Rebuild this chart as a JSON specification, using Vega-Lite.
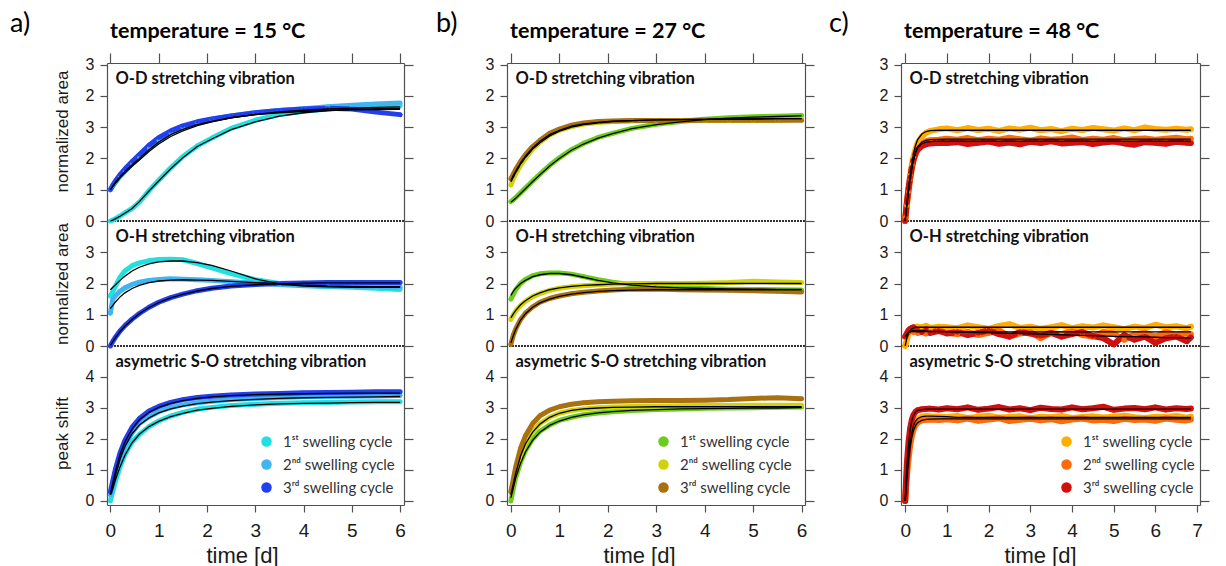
{
"$schema":"https://vega.github.io/schema/vega-lite/v6.json",
"padding":{"left":10,"top":9,"right":5,"bottom":0},
"datasets":{
"aOD":[
{"c":1,"t":0,"v":0,"f":0},{"c":1,"t":0.05,"v":0.03,"f":0.03},{"c":1,"t":0.1,"v":0.07,"f":0.07},{"c":1,"t":0.2,"v":0.16,"f":0.15},{"c":1,"t":0.3,"v":0.26,"f":0.25},{"c":1,"t":0.45,"v":0.4,"f":0.4},{"c":1,"t":0.6,"v":0.6,"f":0.62},{"c":1,"t":0.8,"v":0.97,"f":0.96},{"c":1,"t":1,"v":1.3,"f":1.28},{"c":1,"t":1.25,"v":1.7,"f":1.67},{"c":1,"t":1.5,"v":2.06,"f":2.02},{"c":1,"t":1.8,"v":2.4,"f":2.38},{"c":1,"t":2.1,"v":2.65,"f":2.62},{"c":1,"t":2.5,"v":2.96,"f":2.92},{"c":1,"t":3,"v":3.22,"f":3.17},{"c":1,"t":3.5,"v":3.4,"f":3.35},{"c":1,"t":4,"v":3.51,"f":3.46},{"c":1,"t":4.5,"v":3.58,"f":3.53},{"c":1,"t":5,"v":3.63,"f":3.57},{"c":1,"t":5.5,"v":3.66,"f":3.59},{"c":1,"t":6,"v":3.68,"f":3.6},
{"c":2,"t":0,"v":1.0,"f":1.0},{"c":2,"t":0.05,"v":1.12,"f":1.1},{"c":2,"t":0.1,"v":1.22,"f":1.2},{"c":2,"t":0.2,"v":1.42,"f":1.38},{"c":2,"t":0.3,"v":1.58,"f":1.53},{"c":2,"t":0.45,"v":1.83,"f":1.75},{"c":2,"t":0.6,"v":2.03,"f":1.95},{"c":2,"t":0.8,"v":2.33,"f":2.22},{"c":2,"t":1,"v":2.58,"f":2.46},{"c":2,"t":1.25,"v":2.82,"f":2.7},{"c":2,"t":1.5,"v":3.0,"f":2.88},{"c":2,"t":1.8,"v":3.15,"f":3.05},{"c":2,"t":2.1,"v":3.25,"f":3.17},{"c":2,"t":2.5,"v":3.36,"f":3.3},{"c":2,"t":3,"v":3.46,"f":3.41},{"c":2,"t":3.5,"v":3.53,"f":3.49},{"c":2,"t":4,"v":3.59,"f":3.54},{"c":2,"t":4.5,"v":3.65,"f":3.58},{"c":2,"t":5,"v":3.7,"f":3.61},{"c":2,"t":5.5,"v":3.74,"f":3.63},{"c":2,"t":6,"v":3.77,"f":3.65},
{"c":3,"t":0,"v":1.0,"f":1.0},{"c":3,"t":0.05,"v":1.15,"f":1.12},{"c":3,"t":0.1,"v":1.27,"f":1.23},{"c":3,"t":0.2,"v":1.48,"f":1.42},{"c":3,"t":0.3,"v":1.66,"f":1.58},{"c":3,"t":0.45,"v":1.9,"f":1.8},{"c":3,"t":0.6,"v":2.12,"f":2.0},{"c":3,"t":0.8,"v":2.42,"f":2.28},{"c":3,"t":1,"v":2.66,"f":2.52},{"c":3,"t":1.25,"v":2.88,"f":2.76},{"c":3,"t":1.5,"v":3.04,"f":2.93},{"c":3,"t":1.8,"v":3.17,"f":3.08},{"c":3,"t":2.1,"v":3.26,"f":3.18},{"c":3,"t":2.5,"v":3.36,"f":3.3},{"c":3,"t":3,"v":3.46,"f":3.4},{"c":3,"t":3.5,"v":3.53,"f":3.46},{"c":3,"t":4,"v":3.58,"f":3.5},{"c":3,"t":4.5,"v":3.6,"f":3.53},{"c":3,"t":5,"v":3.58,"f":3.55},{"c":3,"t":5.5,"v":3.48,"f":3.56},{"c":3,"t":6,"v":3.4,"f":3.57}],
"aOH":[
{"c":1,"t":0,"v":1.6,"f":1.8},{"c":1,"t":0.05,"v":1.75,"f":1.88},{"c":1,"t":0.1,"v":1.9,"f":1.95},{"c":1,"t":0.2,"v":2.2,"f":2.1},{"c":1,"t":0.3,"v":2.4,"f":2.23},{"c":1,"t":0.45,"v":2.57,"f":2.4},{"c":1,"t":0.6,"v":2.66,"f":2.52},{"c":1,"t":0.8,"v":2.73,"f":2.63},{"c":1,"t":1,"v":2.77,"f":2.69},{"c":1,"t":1.25,"v":2.78,"f":2.72},{"c":1,"t":1.5,"v":2.76,"f":2.72},{"c":1,"t":1.8,"v":2.64,"f":2.67},{"c":1,"t":2.1,"v":2.5,"f":2.58},{"c":1,"t":2.5,"v":2.32,"f":2.4},{"c":1,"t":3,"v":2.12,"f":2.15},{"c":1,"t":3.5,"v":2.0,"f":1.99},{"c":1,"t":4,"v":1.94,"f":1.92},{"c":1,"t":4.5,"v":1.9,"f":1.89},{"c":1,"t":5,"v":1.88,"f":1.88},{"c":1,"t":5.5,"v":1.85,"f":1.88},{"c":1,"t":6,"v":1.81,"f":1.88},
{"c":2,"t":0,"v":1.05,"f":1.2},{"c":2,"t":0.05,"v":1.5,"f":1.3},{"c":2,"t":0.1,"v":1.6,"f":1.4},{"c":2,"t":0.2,"v":1.75,"f":1.57},{"c":2,"t":0.3,"v":1.86,"f":1.7},{"c":2,"t":0.45,"v":1.97,"f":1.84},{"c":2,"t":0.6,"v":2.04,"f":1.94},{"c":2,"t":0.8,"v":2.1,"f":2.03},{"c":2,"t":1,"v":2.13,"f":2.08},{"c":2,"t":1.25,"v":2.15,"f":2.11},{"c":2,"t":1.5,"v":2.14,"f":2.12},{"c":2,"t":1.8,"v":2.12,"f":2.11},{"c":2,"t":2.1,"v":2.1,"f":2.1},{"c":2,"t":2.5,"v":2.06,"f":2.07},{"c":2,"t":3,"v":2.02,"f":2.03},{"c":2,"t":3.5,"v":1.97,"f":1.99},{"c":2,"t":4,"v":1.93,"f":1.95},{"c":2,"t":4.5,"v":1.91,"f":1.92},{"c":2,"t":5,"v":1.9,"f":1.91},{"c":2,"t":5.5,"v":1.89,"f":1.9},{"c":2,"t":6,"v":1.88,"f":1.9},
{"c":3,"t":0,"v":0,"f":0.02},{"c":3,"t":0.05,"v":0.15,"f":0.14},{"c":3,"t":0.1,"v":0.27,"f":0.26},{"c":3,"t":0.2,"v":0.48,"f":0.46},{"c":3,"t":0.3,"v":0.65,"f":0.63},{"c":3,"t":0.45,"v":0.86,"f":0.85},{"c":3,"t":0.6,"v":1.04,"f":1.03},{"c":3,"t":0.8,"v":1.24,"f":1.23},{"c":3,"t":1,"v":1.4,"f":1.39},{"c":3,"t":1.25,"v":1.55,"f":1.54},{"c":3,"t":1.5,"v":1.66,"f":1.65},{"c":3,"t":1.8,"v":1.77,"f":1.76},{"c":3,"t":2.1,"v":1.85,"f":1.84},{"c":3,"t":2.5,"v":1.92,"f":1.91},{"c":3,"t":3,"v":1.97,"f":1.96},{"c":3,"t":3.5,"v":2.0,"f":1.99},{"c":3,"t":4,"v":2.02,"f":2.01},{"c":3,"t":4.5,"v":2.03,"f":2.02},{"c":3,"t":5,"v":2.03,"f":2.02},{"c":3,"t":5.5,"v":2.03,"f":2.02},{"c":3,"t":6,"v":2.03,"f":2.02}],
"aSO":[
{"c":1,"t":0,"v":0,"f":0.2},{"c":1,"t":0.05,"v":0.3,"f":0.42},{"c":1,"t":0.1,"v":0.6,"f":0.66},{"c":1,"t":0.2,"v":1.1,"f":1.1},{"c":1,"t":0.3,"v":1.5,"f":1.47},{"c":1,"t":0.45,"v":1.9,"f":1.88},{"c":1,"t":0.6,"v":2.15,"f":2.15},{"c":1,"t":0.8,"v":2.4,"f":2.4},{"c":1,"t":1,"v":2.58,"f":2.57},{"c":1,"t":1.25,"v":2.74,"f":2.72},{"c":1,"t":1.5,"v":2.86,"f":2.83},{"c":1,"t":1.8,"v":2.96,"f":2.93},{"c":1,"t":2.1,"v":3.02,"f":2.99},{"c":1,"t":2.5,"v":3.08,"f":3.05},{"c":1,"t":3,"v":3.12,"f":3.1},{"c":1,"t":3.5,"v":3.15,"f":3.13},{"c":1,"t":4,"v":3.17,"f":3.15},{"c":1,"t":4.5,"v":3.18,"f":3.16},{"c":1,"t":5,"v":3.19,"f":3.17},{"c":1,"t":5.5,"v":3.2,"f":3.18},{"c":1,"t":6,"v":3.2,"f":3.18},
{"c":2,"t":0,"v":0.2,"f":0.2},{"c":2,"t":0.05,"v":0.5,"f":0.52},{"c":2,"t":0.1,"v":0.85,"f":0.82},{"c":2,"t":0.2,"v":1.4,"f":1.35},{"c":2,"t":0.3,"v":1.8,"f":1.75},{"c":2,"t":0.45,"v":2.2,"f":2.17},{"c":2,"t":0.6,"v":2.5,"f":2.45},{"c":2,"t":0.8,"v":2.72,"f":2.68},{"c":2,"t":1,"v":2.88,"f":2.84},{"c":2,"t":1.25,"v":3.01,"f":2.97},{"c":2,"t":1.5,"v":3.1,"f":3.06},{"c":2,"t":1.8,"v":3.17,"f":3.14},{"c":2,"t":2.1,"v":3.22,"f":3.19},{"c":2,"t":2.5,"v":3.27,"f":3.24},{"c":2,"t":3,"v":3.31,"f":3.28},{"c":2,"t":3.5,"v":3.34,"f":3.31},{"c":2,"t":4,"v":3.36,"f":3.33},{"c":2,"t":4.5,"v":3.37,"f":3.34},{"c":2,"t":5,"v":3.38,"f":3.35},{"c":2,"t":5.5,"v":3.39,"f":3.36},{"c":2,"t":6,"v":3.4,"f":3.37},
{"c":3,"t":0,"v":0.3,"f":0.2},{"c":3,"t":0.05,"v":0.65,"f":0.58},{"c":3,"t":0.1,"v":1.0,"f":0.93},{"c":3,"t":0.2,"v":1.55,"f":1.5},{"c":3,"t":0.3,"v":1.95,"f":1.9},{"c":3,"t":0.45,"v":2.38,"f":2.33},{"c":3,"t":0.6,"v":2.66,"f":2.62},{"c":3,"t":0.8,"v":2.9,"f":2.86},{"c":3,"t":1,"v":3.05,"f":3.02},{"c":3,"t":1.25,"v":3.18,"f":3.15},{"c":3,"t":1.5,"v":3.27,"f":3.24},{"c":3,"t":1.8,"v":3.34,"f":3.31},{"c":3,"t":2.1,"v":3.38,"f":3.36},{"c":3,"t":2.5,"v":3.42,"f":3.4},{"c":3,"t":3,"v":3.45,"f":3.43},{"c":3,"t":3.5,"v":3.47,"f":3.45},{"c":3,"t":4,"v":3.49,"f":3.46},{"c":3,"t":4.5,"v":3.5,"f":3.47},{"c":3,"t":5,"v":3.51,"f":3.48},{"c":3,"t":5.5,"v":3.52,"f":3.48},{"c":3,"t":6,"v":3.52,"f":3.48}],
"bOD":[
{"c":1,"t":0,"v":0.62,"f":0.6},{"c":1,"t":0.05,"v":0.68,"f":0.66},{"c":1,"t":0.1,"v":0.75,"f":0.73},{"c":1,"t":0.2,"v":0.9,"f":0.88},{"c":1,"t":0.3,"v":1.05,"f":1.03},{"c":1,"t":0.45,"v":1.28,"f":1.26},{"c":1,"t":0.6,"v":1.5,"f":1.48},{"c":1,"t":0.8,"v":1.78,"f":1.76},{"c":1,"t":1,"v":2.02,"f":2.0},{"c":1,"t":1.25,"v":2.28,"f":2.26},{"c":1,"t":1.5,"v":2.48,"f":2.46},{"c":1,"t":1.8,"v":2.67,"f":2.65},{"c":1,"t":2.1,"v":2.8,"f":2.79},{"c":1,"t":2.5,"v":2.96,"f":2.95},{"c":1,"t":3,"v":3.09,"f":3.08},{"c":1,"t":3.5,"v":3.18,"f":3.17},{"c":1,"t":4,"v":3.25,"f":3.24},{"c":1,"t":4.5,"v":3.3,"f":3.29},{"c":1,"t":5,"v":3.33,"f":3.32},{"c":1,"t":5.5,"v":3.35,"f":3.34},{"c":1,"t":6,"v":3.37,"f":3.36},
{"c":2,"t":0,"v":1.15,"f":1.25},{"c":2,"t":0.05,"v":1.35,"f":1.4},{"c":2,"t":0.1,"v":1.5,"f":1.55},{"c":2,"t":0.2,"v":1.78,"f":1.82},{"c":2,"t":0.3,"v":2.0,"f":2.03},{"c":2,"t":0.45,"v":2.3,"f":2.3},{"c":2,"t":0.6,"v":2.52,"f":2.5},{"c":2,"t":0.8,"v":2.75,"f":2.72},{"c":2,"t":1,"v":2.9,"f":2.87},{"c":2,"t":1.25,"v":3.02,"f":3.0},{"c":2,"t":1.5,"v":3.1,"f":3.08},{"c":2,"t":1.8,"v":3.15,"f":3.14},{"c":2,"t":2.1,"v":3.18,"f":3.18},{"c":2,"t":2.5,"v":3.2,"f":3.21},{"c":2,"t":3,"v":3.21,"f":3.23},{"c":2,"t":3.5,"v":3.21,"f":3.24},{"c":2,"t":4,"v":3.21,"f":3.25},{"c":2,"t":4.5,"v":3.21,"f":3.26},{"c":2,"t":5,"v":3.21,"f":3.26},{"c":2,"t":5.5,"v":3.22,"f":3.27},{"c":2,"t":6,"v":3.26,"f":3.27},
{"c":3,"t":0,"v":1.35,"f":1.3},{"c":3,"t":0.05,"v":1.5,"f":1.45},{"c":3,"t":0.1,"v":1.65,"f":1.6},{"c":3,"t":0.2,"v":1.9,"f":1.86},{"c":3,"t":0.3,"v":2.12,"f":2.07},{"c":3,"t":0.45,"v":2.38,"f":2.34},{"c":3,"t":0.6,"v":2.58,"f":2.55},{"c":3,"t":0.8,"v":2.8,"f":2.76},{"c":3,"t":1,"v":2.94,"f":2.9},{"c":3,"t":1.25,"v":3.06,"f":3.03},{"c":3,"t":1.5,"v":3.13,"f":3.1},{"c":3,"t":1.8,"v":3.18,"f":3.15},{"c":3,"t":2.1,"v":3.2,"f":3.19},{"c":3,"t":2.5,"v":3.21,"f":3.21},{"c":3,"t":3,"v":3.21,"f":3.23},{"c":3,"t":3.5,"v":3.21,"f":3.24},{"c":3,"t":4,"v":3.22,"f":3.25},{"c":3,"t":4.5,"v":3.22,"f":3.26},{"c":3,"t":5,"v":3.22,"f":3.26},{"c":3,"t":5.5,"v":3.22,"f":3.27},{"c":3,"t":6,"v":3.22,"f":3.27}],
"bOH":[
{"c":1,"t":0,"v":1.5,"f":1.62},{"c":1,"t":0.05,"v":1.65,"f":1.75},{"c":1,"t":0.1,"v":1.8,"f":1.85},{"c":1,"t":0.2,"v":2.0,"f":2.0},{"c":1,"t":0.3,"v":2.13,"f":2.1},{"c":1,"t":0.45,"v":2.25,"f":2.22},{"c":1,"t":0.6,"v":2.31,"f":2.28},{"c":1,"t":0.8,"v":2.34,"f":2.32},{"c":1,"t":1,"v":2.34,"f":2.32},{"c":1,"t":1.25,"v":2.3,"f":2.28},{"c":1,"t":1.5,"v":2.22,"f":2.2},{"c":1,"t":1.8,"v":2.12,"f":2.1},{"c":1,"t":2.1,"v":2.04,"f":2.02},{"c":1,"t":2.5,"v":1.96,"f":1.95},{"c":1,"t":3,"v":1.9,"f":1.89},{"c":1,"t":3.5,"v":1.86,"f":1.86},{"c":1,"t":4,"v":1.84,"f":1.84},{"c":1,"t":4.5,"v":1.82,"f":1.83},{"c":1,"t":5,"v":1.81,"f":1.82},{"c":1,"t":5.5,"v":1.8,"f":1.81},{"c":1,"t":6,"v":1.79,"f":1.81},
{"c":2,"t":0,"v":0.85,"f":0.9},{"c":2,"t":0.05,"v":1.0,"f":1.03},{"c":2,"t":0.1,"v":1.12,"f":1.14},{"c":2,"t":0.2,"v":1.3,"f":1.32},{"c":2,"t":0.3,"v":1.43,"f":1.45},{"c":2,"t":0.45,"v":1.58,"f":1.6},{"c":2,"t":0.6,"v":1.68,"f":1.7},{"c":2,"t":0.8,"v":1.78,"f":1.8},{"c":2,"t":1,"v":1.85,"f":1.86},{"c":2,"t":1.25,"v":1.9,"f":1.91},{"c":2,"t":1.5,"v":1.93,"f":1.94},{"c":2,"t":1.8,"v":1.96,"f":1.96},{"c":2,"t":2.1,"v":1.98,"f":1.98},{"c":2,"t":2.5,"v":2.0,"f":1.99},{"c":2,"t":3,"v":2.0,"f":2.0},{"c":2,"t":3.5,"v":2.0,"f":2.0},{"c":2,"t":4,"v":2.01,"f":2.0},{"c":2,"t":4.5,"v":2.03,"f":2.0},{"c":2,"t":5,"v":2.07,"f":2.0},{"c":2,"t":5.5,"v":2.05,"f":2.0},{"c":2,"t":6,"v":2.03,"f":2.0},
{"c":3,"t":0,"v":0.05,"f":0.1},{"c":3,"t":0.05,"v":0.35,"f":0.33},{"c":3,"t":0.1,"v":0.55,"f":0.53},{"c":3,"t":0.2,"v":0.85,"f":0.83},{"c":3,"t":0.3,"v":1.05,"f":1.03},{"c":3,"t":0.45,"v":1.25,"f":1.24},{"c":3,"t":0.6,"v":1.4,"f":1.38},{"c":3,"t":0.8,"v":1.52,"f":1.5},{"c":3,"t":1,"v":1.6,"f":1.59},{"c":3,"t":1.25,"v":1.67,"f":1.66},{"c":3,"t":1.5,"v":1.72,"f":1.71},{"c":3,"t":1.8,"v":1.76,"f":1.75},{"c":3,"t":2.1,"v":1.79,"f":1.77},{"c":3,"t":2.5,"v":1.82,"f":1.79},{"c":3,"t":3,"v":1.82,"f":1.8},{"c":3,"t":3.5,"v":1.8,"f":1.8},{"c":3,"t":4,"v":1.79,"f":1.8},{"c":3,"t":4.5,"v":1.78,"f":1.8},{"c":3,"t":5,"v":1.77,"f":1.8},{"c":3,"t":5.5,"v":1.75,"f":1.8},{"c":3,"t":6,"v":1.73,"f":1.8}],
"bSO":[
{"c":1,"t":0,"v":0,"f":0.1},{"c":1,"t":0.05,"v":0.4,"f":0.42},{"c":1,"t":0.1,"v":0.75,"f":0.74},{"c":1,"t":0.2,"v":1.25,"f":1.22},{"c":1,"t":0.3,"v":1.62,"f":1.58},{"c":1,"t":0.45,"v":2.0,"f":1.96},{"c":1,"t":0.6,"v":2.25,"f":2.22},{"c":1,"t":0.8,"v":2.45,"f":2.44},{"c":1,"t":1,"v":2.6,"f":2.58},{"c":1,"t":1.25,"v":2.7,"f":2.7},{"c":1,"t":1.5,"v":2.78,"f":2.78},{"c":1,"t":1.8,"v":2.84,"f":2.84},{"c":1,"t":2.1,"v":2.88,"f":2.88},{"c":1,"t":2.5,"v":2.92,"f":2.92},{"c":1,"t":3,"v":2.95,"f":2.95},{"c":1,"t":3.5,"v":2.97,"f":2.97},{"c":1,"t":4,"v":2.99,"f":2.98},{"c":1,"t":4.5,"v":3.0,"f":2.99},{"c":1,"t":5,"v":3.01,"f":3.0},{"c":1,"t":5.5,"v":3.02,"f":3.0},{"c":1,"t":6,"v":3.03,"f":3.01},
{"c":2,"t":0,"v":0.3,"f":0.2},{"c":2,"t":0.05,"v":0.6,"f":0.55},{"c":2,"t":0.1,"v":0.95,"f":0.9},{"c":2,"t":0.2,"v":1.5,"f":1.45},{"c":2,"t":0.3,"v":1.88,"f":1.84},{"c":2,"t":0.45,"v":2.25,"f":2.22},{"c":2,"t":0.6,"v":2.5,"f":2.48},{"c":2,"t":0.8,"v":2.7,"f":2.7},{"c":2,"t":1,"v":2.83,"f":2.83},{"c":2,"t":1.25,"v":2.92,"f":2.92},{"c":2,"t":1.5,"v":2.97,"f":2.97},{"c":2,"t":1.8,"v":3.01,"f":3.0},{"c":2,"t":2.1,"v":3.03,"f":3.02},{"c":2,"t":2.5,"v":3.05,"f":3.03},{"c":2,"t":3,"v":3.06,"f":3.04},{"c":2,"t":3.5,"v":3.07,"f":3.04},{"c":2,"t":4,"v":3.08,"f":3.04},{"c":2,"t":4.5,"v":3.08,"f":3.04},{"c":2,"t":5,"v":3.09,"f":3.04},{"c":2,"t":5.5,"v":3.09,"f":3.04},{"c":2,"t":6,"v":3.09,"f":3.04},
{"c":3,"t":0,"v":0.3,"f":null},{"c":3,"t":0.05,"v":0.7,"f":null},{"c":3,"t":0.1,"v":1.1,"f":null},{"c":3,"t":0.2,"v":1.7,"f":null},{"c":3,"t":0.3,"v":2.1,"f":null},{"c":3,"t":0.45,"v":2.5,"f":null},{"c":3,"t":0.6,"v":2.75,"f":null},{"c":3,"t":0.8,"v":2.93,"f":null},{"c":3,"t":1,"v":3.04,"f":null},{"c":3,"t":1.25,"v":3.12,"f":null},{"c":3,"t":1.5,"v":3.17,"f":null},{"c":3,"t":1.8,"v":3.2,"f":null},{"c":3,"t":2.1,"v":3.22,"f":null},{"c":3,"t":2.5,"v":3.23,"f":null},{"c":3,"t":3,"v":3.24,"f":null},{"c":3,"t":3.5,"v":3.24,"f":null},{"c":3,"t":4,"v":3.25,"f":null},{"c":3,"t":4.5,"v":3.27,"f":null},{"c":3,"t":5,"v":3.31,"f":null},{"c":3,"t":5.5,"v":3.33,"f":null},{"c":3,"t":6,"v":3.3,"f":null}],
"cOD":[
{"c":1,"t":0,"v":0,"f":0},{"c":1,"t":0.04,"v":0.5,"f":0.55},{"c":1,"t":0.08,"v":1.0,"f":1.05},{"c":1,"t":0.12,"v":1.45,"f":1.5},{"c":1,"t":0.16,"v":1.8,"f":1.85},{"c":1,"t":0.2,"v":2.05,"f":2.15},{"c":1,"t":0.25,"v":2.3,"f":2.42},{"c":1,"t":0.3,"v":2.5,"f":2.6},{"c":1,"t":0.4,"v":2.7,"f":2.78},{"c":1,"t":0.5,"v":2.82,"f":2.86},{"c":1,"t":0.6,"v":2.88,"f":2.89},{"c":1,"t":0.8,"v":2.93,"f":2.9},{"c":1,"t":1,"v":2.96,"f":2.9},{"c":1,"t":1.25,"v":2.9,"f":2.9},{"c":1,"t":1.5,"v":2.97,"f":2.9},{"c":1,"t":1.75,"v":2.91,"f":2.9},{"c":1,"t":2,"v":2.95,"f":2.9},{"c":1,"t":2.25,"v":2.88,"f":2.9},{"c":1,"t":2.5,"v":2.96,"f":2.9},{"c":1,"t":2.75,"v":2.92,"f":2.9},{"c":1,"t":3,"v":2.98,"f":2.9},{"c":1,"t":3.25,"v":2.9,"f":2.9},{"c":1,"t":3.5,"v":2.94,"f":2.9},{"c":1,"t":3.75,"v":2.87,"f":2.9},{"c":1,"t":4,"v":2.95,"f":2.9},{"c":1,"t":4.25,"v":2.91,"f":2.9},{"c":1,"t":4.5,"v":2.97,"f":2.9},{"c":1,"t":4.75,"v":2.93,"f":2.9},{"c":1,"t":5,"v":2.89,"f":2.9},{"c":1,"t":5.25,"v":2.96,"f":2.9},{"c":1,"t":5.5,"v":2.9,"f":2.9},{"c":1,"t":5.75,"v":2.99,"f":2.9},{"c":1,"t":6,"v":2.94,"f":2.9},{"c":1,"t":6.25,"v":2.92,"f":2.9},{"c":1,"t":6.5,"v":2.95,"f":2.9},{"c":1,"t":6.75,"v":2.92,"f":2.9},{"c":1,"t":6.85,"v":2.93,"f":2.9},
{"c":2,"t":0,"v":0.1,"f":0},{"c":2,"t":0.04,"v":0.55,"f":0.5},{"c":2,"t":0.08,"v":0.95,"f":0.95},{"c":2,"t":0.12,"v":1.35,"f":1.35},{"c":2,"t":0.16,"v":1.7,"f":1.68},{"c":2,"t":0.2,"v":1.95,"f":1.95},{"c":2,"t":0.25,"v":2.15,"f":2.2},{"c":2,"t":0.3,"v":2.3,"f":2.38},{"c":2,"t":0.4,"v":2.45,"f":2.52},{"c":2,"t":0.5,"v":2.55,"f":2.58},{"c":2,"t":0.6,"v":2.58,"f":2.6},{"c":2,"t":0.8,"v":2.6,"f":2.61},{"c":2,"t":1,"v":2.63,"f":2.62},{"c":2,"t":1.25,"v":2.6,"f":2.62},{"c":2,"t":1.5,"v":2.65,"f":2.62},{"c":2,"t":1.75,"v":2.58,"f":2.62},{"c":2,"t":2,"v":2.63,"f":2.62},{"c":2,"t":2.25,"v":2.6,"f":2.62},{"c":2,"t":2.5,"v":2.66,"f":2.62},{"c":2,"t":2.75,"v":2.61,"f":2.62},{"c":2,"t":3,"v":2.57,"f":2.62},{"c":2,"t":3.25,"v":2.64,"f":2.62},{"c":2,"t":3.5,"v":2.6,"f":2.62},{"c":2,"t":3.75,"v":2.62,"f":2.62},{"c":2,"t":4,"v":2.67,"f":2.62},{"c":2,"t":4.25,"v":2.59,"f":2.62},{"c":2,"t":4.5,"v":2.63,"f":2.62},{"c":2,"t":4.75,"v":2.6,"f":2.62},{"c":2,"t":5,"v":2.65,"f":2.62},{"c":2,"t":5.25,"v":2.58,"f":2.62},{"c":2,"t":5.5,"v":2.62,"f":2.62},{"c":2,"t":5.75,"v":2.64,"f":2.62},{"c":2,"t":6,"v":2.6,"f":2.62},{"c":2,"t":6.25,"v":2.63,"f":2.62},{"c":2,"t":6.5,"v":2.66,"f":2.62},{"c":2,"t":6.75,"v":2.61,"f":2.62},{"c":2,"t":6.85,"v":2.63,"f":2.62},
{"c":3,"t":0,"v":0,"f":0},{"c":3,"t":0.04,"v":0.6,"f":0.52},{"c":3,"t":0.08,"v":1.05,"f":0.97},{"c":3,"t":0.12,"v":1.4,"f":1.36},{"c":3,"t":0.16,"v":1.7,"f":1.68},{"c":3,"t":0.2,"v":1.95,"f":1.94},{"c":3,"t":0.25,"v":2.15,"f":2.18},{"c":3,"t":0.3,"v":2.28,"f":2.34},{"c":3,"t":0.4,"v":2.4,"f":2.47},{"c":3,"t":0.5,"v":2.45,"f":2.52},{"c":3,"t":0.6,"v":2.48,"f":2.54},{"c":3,"t":0.8,"v":2.5,"f":2.55},{"c":3,"t":1,"v":2.49,"f":2.55},{"c":3,"t":1.25,"v":2.52,"f":2.55},{"c":3,"t":1.5,"v":2.46,"f":2.55},{"c":3,"t":1.75,"v":2.5,"f":2.55},{"c":3,"t":2,"v":2.54,"f":2.55},{"c":3,"t":2.25,"v":2.47,"f":2.55},{"c":3,"t":2.5,"v":2.51,"f":2.55},{"c":3,"t":2.75,"v":2.45,"f":2.55},{"c":3,"t":3,"v":2.53,"f":2.55},{"c":3,"t":3.25,"v":2.49,"f":2.55},{"c":3,"t":3.5,"v":2.55,"f":2.55},{"c":3,"t":3.75,"v":2.48,"f":2.55},{"c":3,"t":4,"v":2.5,"f":2.55},{"c":3,"t":4.25,"v":2.52,"f":2.55},{"c":3,"t":4.5,"v":2.46,"f":2.55},{"c":3,"t":4.75,"v":2.51,"f":2.55},{"c":3,"t":5,"v":2.54,"f":2.55},{"c":3,"t":5.25,"v":2.48,"f":2.55},{"c":3,"t":5.5,"v":2.44,"f":2.55},{"c":3,"t":5.75,"v":2.52,"f":2.55},{"c":3,"t":6,"v":2.5,"f":2.55},{"c":3,"t":6.25,"v":2.47,"f":2.55},{"c":3,"t":6.5,"v":2.53,"f":2.55},{"c":3,"t":6.75,"v":2.5,"f":2.55},{"c":3,"t":6.85,"v":2.49,"f":2.55}],
"cOH":[
{"c":1,"t":0,"v":0,"f":0},{"c":1,"t":0.04,"v":0.2,"f":0.25},{"c":1,"t":0.08,"v":0.4,"f":0.42},{"c":1,"t":0.12,"v":0.5,"f":0.5},{"c":1,"t":0.16,"v":0.55,"f":0.55},{"c":1,"t":0.2,"v":0.58,"f":0.58},{"c":1,"t":0.25,"v":0.6,"f":0.6},{"c":1,"t":0.3,"v":0.62,"f":0.6},{"c":1,"t":0.4,"v":0.6,"f":0.6},{"c":1,"t":0.5,"v":0.65,"f":0.6},{"c":1,"t":0.6,"v":0.58,"f":0.6},{"c":1,"t":0.8,"v":0.62,"f":0.6},{"c":1,"t":1,"v":0.6,"f":0.6},{"c":1,"t":1.25,"v":0.57,"f":0.6},{"c":1,"t":1.5,"v":0.66,"f":0.6},{"c":1,"t":1.75,"v":0.6,"f":0.6},{"c":1,"t":2,"v":0.55,"f":0.6},{"c":1,"t":2.25,"v":0.64,"f":0.6},{"c":1,"t":2.5,"v":0.7,"f":0.6},{"c":1,"t":2.75,"v":0.58,"f":0.6},{"c":1,"t":3,"v":0.62,"f":0.6},{"c":1,"t":3.25,"v":0.55,"f":0.6},{"c":1,"t":3.5,"v":0.6,"f":0.6},{"c":1,"t":3.75,"v":0.67,"f":0.6},{"c":1,"t":4,"v":0.57,"f":0.6},{"c":1,"t":4.25,"v":0.63,"f":0.6},{"c":1,"t":4.5,"v":0.59,"f":0.6},{"c":1,"t":4.75,"v":0.66,"f":0.6},{"c":1,"t":5,"v":0.6,"f":0.6},{"c":1,"t":5.25,"v":0.54,"f":0.6},{"c":1,"t":5.5,"v":0.62,"f":0.6},{"c":1,"t":5.75,"v":0.58,"f":0.6},{"c":1,"t":6,"v":0.68,"f":0.6},{"c":1,"t":6.25,"v":0.6,"f":0.6},{"c":1,"t":6.5,"v":0.63,"f":0.6},{"c":1,"t":6.75,"v":0.57,"f":0.6},{"c":1,"t":6.85,"v":0.62,"f":0.6},
{"c":2,"t":0,"v":0.3,"f":0.3},{"c":2,"t":0.04,"v":0.38,"f":0.36},{"c":2,"t":0.08,"v":0.45,"f":0.42},{"c":2,"t":0.12,"v":0.5,"f":0.45},{"c":2,"t":0.16,"v":0.48,"f":0.46},{"c":2,"t":0.2,"v":0.45,"f":0.46},{"c":2,"t":0.25,"v":0.5,"f":0.46},{"c":2,"t":0.3,"v":0.42,"f":0.46},{"c":2,"t":0.4,"v":0.47,"f":0.46},{"c":2,"t":0.5,"v":0.4,"f":0.46},{"c":2,"t":0.6,"v":0.45,"f":0.46},{"c":2,"t":0.8,"v":0.5,"f":0.46},{"c":2,"t":1,"v":0.42,"f":0.46},{"c":2,"t":1.25,"v":0.38,"f":0.45},{"c":2,"t":1.5,"v":0.45,"f":0.45},{"c":2,"t":1.75,"v":0.35,"f":0.45},{"c":2,"t":2,"v":0.42,"f":0.45},{"c":2,"t":2.25,"v":0.5,"f":0.45},{"c":2,"t":2.5,"v":0.3,"f":0.45},{"c":2,"t":2.75,"v":0.4,"f":0.45},{"c":2,"t":3,"v":0.45,"f":0.45},{"c":2,"t":3.25,"v":0.25,"f":0.45},{"c":2,"t":3.5,"v":0.42,"f":0.45},{"c":2,"t":3.75,"v":0.38,"f":0.45},{"c":2,"t":4,"v":0.48,"f":0.45},{"c":2,"t":4.25,"v":0.35,"f":0.45},{"c":2,"t":4.5,"v":0.3,"f":0.45},{"c":2,"t":4.75,"v":0.45,"f":0.45},{"c":2,"t":5,"v":0.4,"f":0.45},{"c":2,"t":5.25,"v":0.2,"f":0.45},{"c":2,"t":5.5,"v":0.38,"f":0.45},{"c":2,"t":5.75,"v":0.42,"f":0.45},{"c":2,"t":6,"v":0.3,"f":0.45},{"c":2,"t":6.25,"v":0.45,"f":0.45},{"c":2,"t":6.5,"v":0.35,"f":0.45},{"c":2,"t":6.75,"v":0.4,"f":0.45},{"c":2,"t":6.85,"v":0.38,"f":0.45},
{"c":3,"t":0,"v":0.3,"f":0.3},{"c":3,"t":0.04,"v":0.4,"f":0.38},{"c":3,"t":0.08,"v":0.5,"f":0.44},{"c":3,"t":0.12,"v":0.55,"f":0.47},{"c":3,"t":0.16,"v":0.58,"f":0.48},{"c":3,"t":0.2,"v":0.6,"f":0.49},{"c":3,"t":0.25,"v":0.55,"f":0.49},{"c":3,"t":0.3,"v":0.5,"f":0.49},{"c":3,"t":0.4,"v":0.45,"f":0.48},{"c":3,"t":0.5,"v":0.55,"f":0.48},{"c":3,"t":0.6,"v":0.42,"f":0.47},{"c":3,"t":0.8,"v":0.48,"f":0.47},{"c":3,"t":1,"v":0.4,"f":0.46},{"c":3,"t":1.25,"v":0.45,"f":0.45},{"c":3,"t":1.5,"v":0.35,"f":0.44},{"c":3,"t":1.75,"v":0.42,"f":0.43},{"c":3,"t":2,"v":0.5,"f":0.42},{"c":3,"t":2.25,"v":0.38,"f":0.41},{"c":3,"t":2.5,"v":0.3,"f":0.41},{"c":3,"t":2.75,"v":0.45,"f":0.4},{"c":3,"t":3,"v":0.4,"f":0.39},{"c":3,"t":3.25,"v":0.33,"f":0.38},{"c":3,"t":3.5,"v":0.42,"f":0.37},{"c":3,"t":3.75,"v":0.3,"f":0.36},{"c":3,"t":4,"v":0.38,"f":0.35},{"c":3,"t":4.25,"v":0.45,"f":0.34},{"c":3,"t":4.5,"v":0.32,"f":0.33},{"c":3,"t":4.75,"v":0.25,"f":0.32},{"c":3,"t":5,"v":0.05,"f":0.31},{"c":3,"t":5.25,"v":0.35,"f":0.3},{"c":3,"t":5.5,"v":0.2,"f":0.3},{"c":3,"t":5.75,"v":0.3,"f":0.29},{"c":3,"t":6,"v":0.1,"f":0.28},{"c":3,"t":6.25,"v":0.25,"f":0.27},{"c":3,"t":6.5,"v":0.3,"f":0.27},{"c":3,"t":6.75,"v":0.15,"f":0.26},{"c":3,"t":6.85,"v":0.28,"f":0.25}],
"cSO":[
{"c":1,"t":0,"v":0,"f":0},{"c":1,"t":0.04,"v":0.9,"f":0.8},{"c":1,"t":0.08,"v":1.5,"f":1.45},{"c":1,"t":0.12,"v":1.95,"f":1.9},{"c":1,"t":0.16,"v":2.25,"f":2.2},{"c":1,"t":0.2,"v":2.45,"f":2.42},{"c":1,"t":0.25,"v":2.58,"f":2.58},{"c":1,"t":0.3,"v":2.65,"f":2.66},{"c":1,"t":0.4,"v":2.72,"f":2.72},{"c":1,"t":0.5,"v":2.74,"f":2.74},{"c":1,"t":0.6,"v":2.73,"f":2.74},{"c":1,"t":0.8,"v":2.72,"f":2.73},{"c":1,"t":1,"v":2.71,"f":2.72},{"c":1,"t":1.25,"v":2.74,"f":2.7},{"c":1,"t":1.5,"v":2.68,"f":2.7},{"c":1,"t":1.75,"v":2.72,"f":2.7},{"c":1,"t":2,"v":2.75,"f":2.7},{"c":1,"t":2.25,"v":2.69,"f":2.7},{"c":1,"t":2.5,"v":2.71,"f":2.7},{"c":1,"t":2.75,"v":2.73,"f":2.7},{"c":1,"t":3,"v":2.67,"f":2.7},{"c":1,"t":3.25,"v":2.72,"f":2.7},{"c":1,"t":3.5,"v":2.7,"f":2.7},{"c":1,"t":3.75,"v":2.74,"f":2.7},{"c":1,"t":4,"v":2.68,"f":2.7},{"c":1,"t":4.25,"v":2.71,"f":2.7},{"c":1,"t":4.5,"v":2.73,"f":2.7},{"c":1,"t":4.75,"v":2.69,"f":2.7},{"c":1,"t":5,"v":2.72,"f":2.7},{"c":1,"t":5.25,"v":2.75,"f":2.7},{"c":1,"t":5.5,"v":2.7,"f":2.7},{"c":1,"t":5.75,"v":2.68,"f":2.7},{"c":1,"t":6,"v":2.72,"f":2.7},{"c":1,"t":6.25,"v":2.71,"f":2.7},{"c":1,"t":6.5,"v":2.74,"f":2.7},{"c":1,"t":6.75,"v":2.69,"f":2.7},{"c":1,"t":6.85,"v":2.72,"f":2.7},
{"c":2,"t":0,"v":0,"f":0},{"c":2,"t":0.04,"v":0.8,"f":0.75},{"c":2,"t":0.08,"v":1.35,"f":1.32},{"c":2,"t":0.12,"v":1.8,"f":1.75},{"c":2,"t":0.16,"v":2.1,"f":2.05},{"c":2,"t":0.2,"v":2.3,"f":2.27},{"c":2,"t":0.25,"v":2.45,"f":2.43},{"c":2,"t":0.3,"v":2.53,"f":2.53},{"c":2,"t":0.4,"v":2.6,"f":2.6},{"c":2,"t":0.5,"v":2.62,"f":2.63},{"c":2,"t":0.6,"v":2.63,"f":2.64},{"c":2,"t":0.8,"v":2.61,"f":2.65},{"c":2,"t":1,"v":2.64,"f":2.65},{"c":2,"t":1.25,"v":2.6,"f":2.65},{"c":2,"t":1.5,"v":2.66,"f":2.65},{"c":2,"t":1.75,"v":2.59,"f":2.65},{"c":2,"t":2,"v":2.63,"f":2.65},{"c":2,"t":2.25,"v":2.67,"f":2.65},{"c":2,"t":2.5,"v":2.58,"f":2.65},{"c":2,"t":2.75,"v":2.62,"f":2.65},{"c":2,"t":3,"v":2.65,"f":2.65},{"c":2,"t":3.25,"v":2.6,"f":2.65},{"c":2,"t":3.5,"v":2.64,"f":2.65},{"c":2,"t":3.75,"v":2.57,"f":2.65},{"c":2,"t":4,"v":2.63,"f":2.65},{"c":2,"t":4.25,"v":2.66,"f":2.65},{"c":2,"t":4.5,"v":2.6,"f":2.65},{"c":2,"t":4.75,"v":2.62,"f":2.65},{"c":2,"t":5,"v":2.58,"f":2.65},{"c":2,"t":5.25,"v":2.65,"f":2.65},{"c":2,"t":5.5,"v":2.61,"f":2.65},{"c":2,"t":5.75,"v":2.63,"f":2.65},{"c":2,"t":6,"v":2.59,"f":2.65},{"c":2,"t":6.25,"v":2.66,"f":2.65},{"c":2,"t":6.5,"v":2.62,"f":2.65},{"c":2,"t":6.75,"v":2.6,"f":2.65},{"c":2,"t":6.85,"v":2.63,"f":2.65},
{"c":3,"t":0,"v":0,"f":0},{"c":3,"t":0.04,"v":1.2,"f":1.1},{"c":3,"t":0.08,"v":1.9,"f":1.8},{"c":3,"t":0.12,"v":2.35,"f":2.3},{"c":3,"t":0.16,"v":2.62,"f":2.6},{"c":3,"t":0.2,"v":2.78,"f":2.76},{"c":3,"t":0.25,"v":2.88,"f":2.87},{"c":3,"t":0.3,"v":2.93,"f":2.92},{"c":3,"t":0.4,"v":2.96,"f":2.95},{"c":3,"t":0.5,"v":2.97,"f":2.96},{"c":3,"t":0.6,"v":2.98,"f":2.96},{"c":3,"t":0.8,"v":2.95,"f":2.96},{"c":3,"t":1,"v":2.99,"f":2.96},{"c":3,"t":1.25,"v":2.96,"f":2.96},{"c":3,"t":1.5,"v":3.02,"f":2.96},{"c":3,"t":1.75,"v":2.94,"f":2.96},{"c":3,"t":2,"v":2.98,"f":2.96},{"c":3,"t":2.25,"v":3.03,"f":2.96},{"c":3,"t":2.5,"v":2.95,"f":2.96},{"c":3,"t":2.75,"v":2.99,"f":2.96},{"c":3,"t":3,"v":2.93,"f":2.96},{"c":3,"t":3.25,"v":3.01,"f":2.96},{"c":3,"t":3.5,"v":2.97,"f":2.96},{"c":3,"t":3.75,"v":2.95,"f":2.96},{"c":3,"t":4,"v":3.02,"f":2.96},{"c":3,"t":4.25,"v":2.96,"f":2.96},{"c":3,"t":4.5,"v":2.99,"f":2.96},{"c":3,"t":4.75,"v":3.04,"f":2.96},{"c":3,"t":5,"v":2.94,"f":2.96},{"c":3,"t":5.25,"v":2.98,"f":2.96},{"c":3,"t":5.5,"v":3.0,"f":2.96},{"c":3,"t":5.75,"v":2.96,"f":2.96},{"c":3,"t":6,"v":3.02,"f":2.96},{"c":3,"t":6.25,"v":2.95,"f":2.96},{"c":3,"t":6.5,"v":2.99,"f":2.96},{"c":3,"t":6.75,"v":2.97,"f":2.96},{"c":3,"t":6.85,"v":2.98,"f":2.96}]
},
"hconcat":[
{"hconcat":[
{"vconcat":[
 {"data":{"name":"aOD"},"width":297,"height":158,
  "title":{"text":"temperature = 15 °C","anchor":"start","frame":"group","dx":3,"offset":10,"font":"Lato","fontSize":21.5,"fontWeight":"bold","color":"#000"},
  "layer":[
   {"mark":{"type":"rule","strokeDash":[1.5,1.5],"color":"#333","strokeWidth":1},"encoding":{"y":{"datum":0,"type":"quantitative","axis":null}}},
   {"mark":{"type":"line","strokeWidth":5,"strokeCap":"round","strokeJoin":"round"},"encoding":{
     "x":{"field":"t","type":"quantitative","scale":{"domain":[-0.07,6.08],"nice":false,"zero":false},"axis":{"orient":"top","values":[0,1,2,3,4,5,6],"labels":false,"tickSize":10,"title":"O-D stretching vibration","titleX":8,"titleY":20,"titleAlign":"left","titleBaseline":"alphabetic","titleAngle":0,"titleFont":"Lato","titleFontSize":16.5,"titleFontWeight":"bold","titleColor":"#111"}},
     "y":{"field":"v","type":"quantitative","scale":{"domain":[0,5.05],"nice":false,"zero":false},"axis":{"values":[0,1,2,3,4,5],"labelExpr":"datum.value == 4 ? '2' : datum.value == 5 ? '3' : datum.label","title":"normalized area","titleFontSize":17,"titleY":68,"titlePadding":14}},
     "color":{"field":"c","type":"nominal","scale":{"domain":[1,2,3],"range":["#22e0e0","#3fb6f2","#1f3ff0"]},"legend":null}}},
   {"mark":{"type":"point","filled":true,"size":18,"opacity":1},"encoding":{"x":{"field":"t","type":"quantitative","axis":null},"y":{"field":"v","type":"quantitative","axis":null},"color":{"field":"c","type":"nominal","legend":null}}},
   {"mark":{"type":"line","color":"#000","strokeWidth":1.3},"encoding":{"x":{"field":"t","type":"quantitative","axis":null},"y":{"field":"f","type":"quantitative","axis":null},"detail":{"field":"c"}}},
   {"mark":{"type":"point","opacity":0},"encoding":{"x":{"field":"t","type":"quantitative","axis":null},"y":{"field":"v","type":"quantitative","axis":{"orient":"right","values":[0,1,2,3,4,5],"labels":false,"tickSize":9,"title":null}}}}
  ],
  "resolve":{"axis":{"x":"independent","y":"independent"}}},
 {"data":{"name":"aOH"},"width":297,"height":125,
  "layer":[
   {"mark":{"type":"rule","strokeDash":[1.5,1.5],"color":"#333","strokeWidth":1},"encoding":{"y":{"datum":0,"type":"quantitative","axis":null}}},
   {"mark":{"type":"line","strokeWidth":5,"strokeCap":"round","strokeJoin":"round"},"encoding":{
     "x":{"field":"t","type":"quantitative","scale":{"domain":[-0.07,6.08],"nice":false,"zero":false},"axis":{"orient":"top","domain":false,"ticks":false,"labels":false,"title":"O-H stretching vibration","titleX":8,"titleY":20,"titleAlign":"left","titleBaseline":"alphabetic","titleAngle":0,"titleFont":"Lato","titleFontSize":16.5,"titleFontWeight":"bold","titleColor":"#111"}},
     "y":{"field":"v","type":"quantitative","scale":{"domain":[0,4],"nice":false,"zero":false},"axis":{"values":[0,1,2,3],"title":"normalized area","titleFontSize":17,"titlePadding":14}},
     "color":{"field":"c","type":"nominal","scale":{"domain":[1,2,3],"range":["#22e0e0","#3fb6f2","#1f3ff0"]},"legend":null}}},
   {"mark":{"type":"point","filled":true,"size":18,"opacity":1},"encoding":{"x":{"field":"t","type":"quantitative","axis":null},"y":{"field":"v","type":"quantitative","axis":null},"color":{"field":"c","type":"nominal","legend":null}}},
   {"mark":{"type":"line","color":"#000","strokeWidth":1.3},"encoding":{"x":{"field":"t","type":"quantitative","axis":null},"y":{"field":"f","type":"quantitative","axis":null},"detail":{"field":"c"}}},
   {"mark":{"type":"point","opacity":0},"encoding":{"x":{"field":"t","type":"quantitative","axis":null},"y":{"field":"v","type":"quantitative","axis":{"orient":"right","values":[0,1,2,3],"labels":false,"tickSize":9,"title":null}}}}
  ],
  "resolve":{"axis":{"x":"independent","y":"independent"}}},
 {"data":{"name":"aSO"},"width":297,"height":159,
  "layer":[
   {"mark":{"type":"point","filled":true,"size":18,"opacity":1},"encoding":{
     "x":{"field":"t","type":"quantitative","scale":{"domain":[-0.07,6.08],"nice":false,"zero":false},"axis":{"orient":"bottom","values":[0,1,2,3,4,5,6],"labelFontSize":19,"labelPadding":9,"title":"time [d]","titleFontSize":22,"titlePadding":5,"titleX":135}},
     "y":{"field":"v","type":"quantitative","scale":{"domain":[-0.13,5],"nice":false,"zero":false},"axis":{"values":[0,1,2,3,4],"title":"peak shift","titleFontSize":17,"titleY":87,"titlePadding":14}},
     "color":{"field":"c","type":"nominal","scale":{"domain":[1,2,3],"range":["#22e0e0","#3fb6f2","#1f3ff0"]},"legend":{"orient":"none","legendX":152,"legendY":88,"title":null,"labelExpr":"datum.value == 1 ? '1ˢᵗ swelling cycle' : datum.value == 2 ? '2ⁿᵈ swelling cycle' : '3ʳᵈ swelling cycle'"}}}},
   {"mark":{"type":"line","strokeWidth":5,"strokeCap":"round","strokeJoin":"round"},"encoding":{"x":{"field":"t","type":"quantitative","axis":null},"y":{"field":"v","type":"quantitative","axis":null},"color":{"field":"c","type":"nominal","legend":null}}},
   {"mark":{"type":"line","color":"#000","strokeWidth":1.3},"encoding":{"x":{"field":"t","type":"quantitative","axis":null},"y":{"field":"f","type":"quantitative","axis":null},"detail":{"field":"c"}}},
   {"mark":{"type":"point","opacity":0},"encoding":{"x":{"field":"t","type":"quantitative","axis":{"orient":"top","domain":false,"ticks":false,"labels":false,"title":"asymetric S-O stretching vibration","titleX":8,"titleY":20,"titleAlign":"left","titleBaseline":"alphabetic","titleAngle":0,"titleFont":"Lato","titleFontSize":16.5,"titleFontWeight":"bold","titleColor":"#111"}},"y":{"field":"v","type":"quantitative","axis":{"orient":"right","values":[0,1,2,3,4],"labels":false,"tickSize":9,"title":null}}}}
  ],
  "resolve":{"axis":{"x":"independent","y":"independent"}}}
 ],
 "spacing":0,"bounds":"flush",
 "title":{"text":"a)","anchor":"start","frame":"group","dx":-97,"offset":-17,"font":"Lato","fontSize":27,"fontWeight":"normal","color":"#000"},
 "resolve":{"scale":{"color":"independent"},"legend":{"color":"independent"}}},
{"vconcat":[
 {"data":{"name":"bOD"},"width":298,"height":158,
  "title":{"text":"temperature = 27 °C","anchor":"start","frame":"group","dx":3,"offset":10,"font":"Lato","fontSize":21.5,"fontWeight":"bold","color":"#000"},
  "layer":[
   {"mark":{"type":"rule","strokeDash":[1.5,1.5],"color":"#333","strokeWidth":1},"encoding":{"y":{"datum":0,"type":"quantitative","axis":null}}},
   {"mark":{"type":"line","strokeWidth":5,"strokeCap":"round","strokeJoin":"round"},"encoding":{
     "x":{"field":"t","type":"quantitative","scale":{"domain":[-0.08,6.07],"nice":false,"zero":false},"axis":{"orient":"top","values":[0,1,2,3,4,5,6],"labels":false,"tickSize":10,"title":"O-D stretching vibration","titleX":8,"titleY":20,"titleAlign":"left","titleBaseline":"alphabetic","titleAngle":0,"titleFont":"Lato","titleFontSize":16.5,"titleFontWeight":"bold","titleColor":"#111"}},
     "y":{"field":"v","type":"quantitative","scale":{"domain":[0,5.05],"nice":false,"zero":false},"axis":{"values":[0,1,2,3,4,5],"labelExpr":"datum.value == 4 ? '2' : datum.value == 5 ? '3' : datum.label","title":null}},
     "color":{"field":"c","type":"nominal","scale":{"domain":[1,2,3],"range":["#6acd1a","#d2d20c","#a8700e"]},"legend":null}}},
   {"mark":{"type":"point","filled":true,"size":18,"opacity":1},"encoding":{"x":{"field":"t","type":"quantitative","axis":null},"y":{"field":"v","type":"quantitative","axis":null},"color":{"field":"c","type":"nominal","legend":null}}},
   {"mark":{"type":"line","color":"#000","strokeWidth":1.3},"encoding":{"x":{"field":"t","type":"quantitative","axis":null},"y":{"field":"f","type":"quantitative","axis":null},"detail":{"field":"c"}}},
   {"mark":{"type":"point","opacity":0},"encoding":{"x":{"field":"t","type":"quantitative","axis":null},"y":{"field":"v","type":"quantitative","axis":{"orient":"right","values":[0,1,2,3,4,5],"labels":false,"tickSize":9,"title":null}}}}
  ],
  "resolve":{"axis":{"x":"independent","y":"independent"}}},
 {"data":{"name":"bOH"},"width":298,"height":125,
  "layer":[
   {"mark":{"type":"rule","strokeDash":[1.5,1.5],"color":"#333","strokeWidth":1},"encoding":{"y":{"datum":0,"type":"quantitative","axis":null}}},
   {"mark":{"type":"line","strokeWidth":5,"strokeCap":"round","strokeJoin":"round"},"encoding":{
     "x":{"field":"t","type":"quantitative","scale":{"domain":[-0.08,6.07],"nice":false,"zero":false},"axis":{"orient":"top","domain":false,"ticks":false,"labels":false,"title":"O-H stretching vibration","titleX":8,"titleY":20,"titleAlign":"left","titleBaseline":"alphabetic","titleAngle":0,"titleFont":"Lato","titleFontSize":16.5,"titleFontWeight":"bold","titleColor":"#111"}},
     "y":{"field":"v","type":"quantitative","scale":{"domain":[0,4],"nice":false,"zero":false},"axis":{"values":[0,1,2,3],"title":null}},
     "color":{"field":"c","type":"nominal","scale":{"domain":[1,2,3],"range":["#6acd1a","#d2d20c","#a8700e"]},"legend":null}}},
   {"mark":{"type":"point","filled":true,"size":18,"opacity":1},"encoding":{"x":{"field":"t","type":"quantitative","axis":null},"y":{"field":"v","type":"quantitative","axis":null},"color":{"field":"c","type":"nominal","legend":null}}},
   {"mark":{"type":"line","color":"#000","strokeWidth":1.3},"encoding":{"x":{"field":"t","type":"quantitative","axis":null},"y":{"field":"f","type":"quantitative","axis":null},"detail":{"field":"c"}}},
   {"mark":{"type":"point","opacity":0},"encoding":{"x":{"field":"t","type":"quantitative","axis":null},"y":{"field":"v","type":"quantitative","axis":{"orient":"right","values":[0,1,2,3],"labels":false,"tickSize":9,"title":null}}}}
  ],
  "resolve":{"axis":{"x":"independent","y":"independent"}}},
 {"data":{"name":"bSO"},"width":298,"height":159,
  "layer":[
   {"mark":{"type":"point","filled":true,"size":18,"opacity":1},"encoding":{
     "x":{"field":"t","type":"quantitative","scale":{"domain":[-0.08,6.07],"nice":false,"zero":false},"axis":{"orient":"bottom","values":[0,1,2,3,4,5,6],"labelFontSize":19,"labelPadding":9,"title":"time [d]","titleFontSize":22,"titlePadding":5,"titleX":132}},
     "y":{"field":"v","type":"quantitative","scale":{"domain":[-0.13,5],"nice":false,"zero":false},"axis":{"values":[0,1,2,3,4],"title":null}},
     "color":{"field":"c","type":"nominal","scale":{"domain":[1,2,3],"range":["#6acd1a","#d2d20c","#a8700e"]},"legend":{"orient":"none","legendX":149,"legendY":88,"title":null,"labelExpr":"datum.value == 1 ? '1ˢᵗ swelling cycle' : datum.value == 2 ? '2ⁿᵈ swelling cycle' : '3ʳᵈ swelling cycle'"}}}},
   {"mark":{"type":"line","strokeWidth":5,"strokeCap":"round","strokeJoin":"round"},"encoding":{"x":{"field":"t","type":"quantitative","axis":null},"y":{"field":"v","type":"quantitative","axis":null},"color":{"field":"c","type":"nominal","legend":null}}},
   {"mark":{"type":"line","color":"#000","strokeWidth":1.3},"encoding":{"x":{"field":"t","type":"quantitative","axis":null},"y":{"field":"f","type":"quantitative","axis":null},"detail":{"field":"c"}}},
   {"mark":{"type":"point","opacity":0},"encoding":{"x":{"field":"t","type":"quantitative","axis":{"orient":"top","domain":false,"ticks":false,"labels":false,"title":"asymetric S-O stretching vibration","titleX":8,"titleY":20,"titleAlign":"left","titleBaseline":"alphabetic","titleAngle":0,"titleFont":"Lato","titleFontSize":16.5,"titleFontWeight":"bold","titleColor":"#111"}},"y":{"field":"v","type":"quantitative","axis":{"orient":"right","values":[0,1,2,3,4],"labels":false,"tickSize":9,"title":null}}}}
  ],
  "resolve":{"axis":{"x":"independent","y":"independent"}}}
 ],
 "spacing":0,"bounds":"flush",
 "title":{"text":"b)","anchor":"start","frame":"group","dx":-71,"offset":-17,"font":"Lato","fontSize":27,"fontWeight":"normal","color":"#000"},
 "resolve":{"scale":{"color":"independent"},"legend":{"color":"independent"}}}
],
"spacing":22,
"resolve":{"scale":{"color":"independent"},"legend":{"color":"independent"}}},
{"vconcat":[
 {"data":{"name":"cOD"},"width":299,"height":158,
  "title":{"text":"temperature = 48 °C","anchor":"start","frame":"group","dx":3,"offset":10,"font":"Lato","fontSize":21.5,"fontWeight":"bold","color":"#000"},
  "layer":[
   {"mark":{"type":"rule","strokeDash":[1.5,1.5],"color":"#333","strokeWidth":1},"encoding":{"y":{"datum":0,"type":"quantitative","axis":null}}},
   {"mark":{"type":"line","strokeWidth":6,"strokeCap":"round","strokeJoin":"round"},"encoding":{
     "x":{"field":"t","type":"quantitative","scale":{"domain":[-0.1,7.07],"nice":false,"zero":false},"axis":{"orient":"top","values":[0,1,2,3,4,5,6,7],"labels":false,"tickSize":10,"title":"O-D stretching vibration","titleX":8,"titleY":20,"titleAlign":"left","titleBaseline":"alphabetic","titleAngle":0,"titleFont":"Lato","titleFontSize":16.5,"titleFontWeight":"bold","titleColor":"#111"}},
     "y":{"field":"v","type":"quantitative","scale":{"domain":[0,5.05],"nice":false,"zero":false},"axis":{"values":[0,1,2,3,4,5],"labelExpr":"datum.value == 4 ? '2' : datum.value == 5 ? '3' : datum.label","title":null}},
     "color":{"field":"c","type":"nominal","scale":{"domain":[1,2,3],"range":["#ffae00","#ff6a0a","#d10f0f"]},"legend":null}}},
   {"mark":{"type":"point","filled":true,"size":28,"opacity":1},"encoding":{"x":{"field":"t","type":"quantitative","axis":null},"y":{"field":"v","type":"quantitative","axis":null},"color":{"field":"c","type":"nominal","legend":null}}},
   {"mark":{"type":"line","color":"#000","strokeWidth":1.3},"encoding":{"x":{"field":"t","type":"quantitative","axis":null},"y":{"field":"f","type":"quantitative","axis":null},"detail":{"field":"c"}}},
   {"mark":{"type":"point","opacity":0},"encoding":{"x":{"field":"t","type":"quantitative","axis":null},"y":{"field":"v","type":"quantitative","axis":{"orient":"right","values":[0,1,2,3,4,5],"labels":false,"tickSize":9,"title":null}}}}
  ],
  "resolve":{"axis":{"x":"independent","y":"independent"}}},
 {"data":{"name":"cOH"},"width":299,"height":125,
  "layer":[
   {"mark":{"type":"rule","strokeDash":[1.5,1.5],"color":"#333","strokeWidth":1},"encoding":{"y":{"datum":0,"type":"quantitative","axis":null}}},
   {"mark":{"type":"line","strokeWidth":6,"strokeCap":"round","strokeJoin":"round"},"encoding":{
     "x":{"field":"t","type":"quantitative","scale":{"domain":[-0.1,7.07],"nice":false,"zero":false},"axis":{"orient":"top","domain":false,"ticks":false,"labels":false,"title":"O-H stretching vibration","titleX":8,"titleY":20,"titleAlign":"left","titleBaseline":"alphabetic","titleAngle":0,"titleFont":"Lato","titleFontSize":16.5,"titleFontWeight":"bold","titleColor":"#111"}},
     "y":{"field":"v","type":"quantitative","scale":{"domain":[0,4],"nice":false,"zero":false},"axis":{"values":[0,1,2,3],"title":null}},
     "color":{"field":"c","type":"nominal","scale":{"domain":[1,2,3],"range":["#ffae00","#ff6a0a","#d10f0f"]},"legend":null}}},
   {"mark":{"type":"point","filled":true,"size":28,"opacity":1},"encoding":{"x":{"field":"t","type":"quantitative","axis":null},"y":{"field":"v","type":"quantitative","axis":null},"color":{"field":"c","type":"nominal","legend":null}}},
   {"mark":{"type":"line","color":"#000","strokeWidth":1.3},"encoding":{"x":{"field":"t","type":"quantitative","axis":null},"y":{"field":"f","type":"quantitative","axis":null},"detail":{"field":"c"}}},
   {"mark":{"type":"point","opacity":0},"encoding":{"x":{"field":"t","type":"quantitative","axis":null},"y":{"field":"v","type":"quantitative","axis":{"orient":"right","values":[0,1,2,3],"labels":false,"tickSize":9,"title":null}}}}
  ],
  "resolve":{"axis":{"x":"independent","y":"independent"}}},
 {"data":{"name":"cSO"},"width":299,"height":159,
  "layer":[
   {"mark":{"type":"point","filled":true,"size":28,"opacity":1},"encoding":{
     "x":{"field":"t","type":"quantitative","scale":{"domain":[-0.1,7.07],"nice":false,"zero":false},"axis":{"orient":"bottom","values":[0,1,2,3,4,5,6,7],"labelFontSize":19,"labelPadding":9,"title":"time [d]","titleFontSize":22,"titlePadding":5,"titleX":139}},
     "y":{"field":"v","type":"quantitative","scale":{"domain":[-0.13,5],"nice":false,"zero":false},"axis":{"values":[0,1,2,3,4],"title":null}},
     "color":{"field":"c","type":"nominal","scale":{"domain":[1,2,3],"range":["#ffae00","#ff6a0a","#d10f0f"]},"legend":{"orient":"none","legendX":158,"legendY":88,"title":null,"labelExpr":"datum.value == 1 ? '1ˢᵗ swelling cycle' : datum.value == 2 ? '2ⁿᵈ swelling cycle' : '3ʳᵈ swelling cycle'"}}}},
   {"mark":{"type":"line","strokeWidth":6,"strokeCap":"round","strokeJoin":"round"},"encoding":{"x":{"field":"t","type":"quantitative","axis":null},"y":{"field":"v","type":"quantitative","axis":null},"color":{"field":"c","type":"nominal","legend":null}}},
   {"mark":{"type":"line","color":"#000","strokeWidth":1.3},"encoding":{"x":{"field":"t","type":"quantitative","axis":null},"y":{"field":"f","type":"quantitative","axis":null},"detail":{"field":"c"}}},
   {"mark":{"type":"point","opacity":0},"encoding":{"x":{"field":"t","type":"quantitative","axis":{"orient":"top","domain":false,"ticks":false,"labels":false,"title":"asymetric S-O stretching vibration","titleX":8,"titleY":20,"titleAlign":"left","titleBaseline":"alphabetic","titleAngle":0,"titleFont":"Lato","titleFontSize":16.5,"titleFontWeight":"bold","titleColor":"#111"}},"y":{"field":"v","type":"quantitative","axis":{"orient":"right","values":[0,1,2,3,4],"labels":false,"tickSize":9,"title":null}}}}
  ],
  "resolve":{"axis":{"x":"independent","y":"independent"}}}
 ],
 "spacing":0,"bounds":"flush",
 "title":{"text":"c)","anchor":"start","frame":"group","dx":-72,"offset":-17,"font":"Lato","fontSize":27,"fontWeight":"normal","color":"#000"},
 "resolve":{"scale":{"color":"independent"},"legend":{"color":"independent"}}}
],
"spacing":14,
"resolve":{"scale":{"color":"independent"},"legend":{"color":"independent"}},
"config":{
 "view":{"stroke":null},
 "font":"Liberation Sans",
 "axis":{"grid":false,"domainColor":"#505050","tickColor":"#505050","domainWidth":1.2,"tickWidth":1.2,"labelFont":"Liberation Sans","labelFontSize":16,"labelColor":"#1a1a1a","titleFont":"Liberation Sans","titleFontWeight":"normal","titleColor":"#1a1a1a","labelFlush":false,"labelOverlap":false,"labelBound":false,"tickSize":7,"labelPadding":6},
 "legend":{"symbolType":"circle","symbolSize":110,"labelFont":"Lato","labelFontSize":15,"labelColor":"#333","labelOffset":9,"rowPadding":7,"padding":0,"symbolStrokeWidth":0}
}
}
